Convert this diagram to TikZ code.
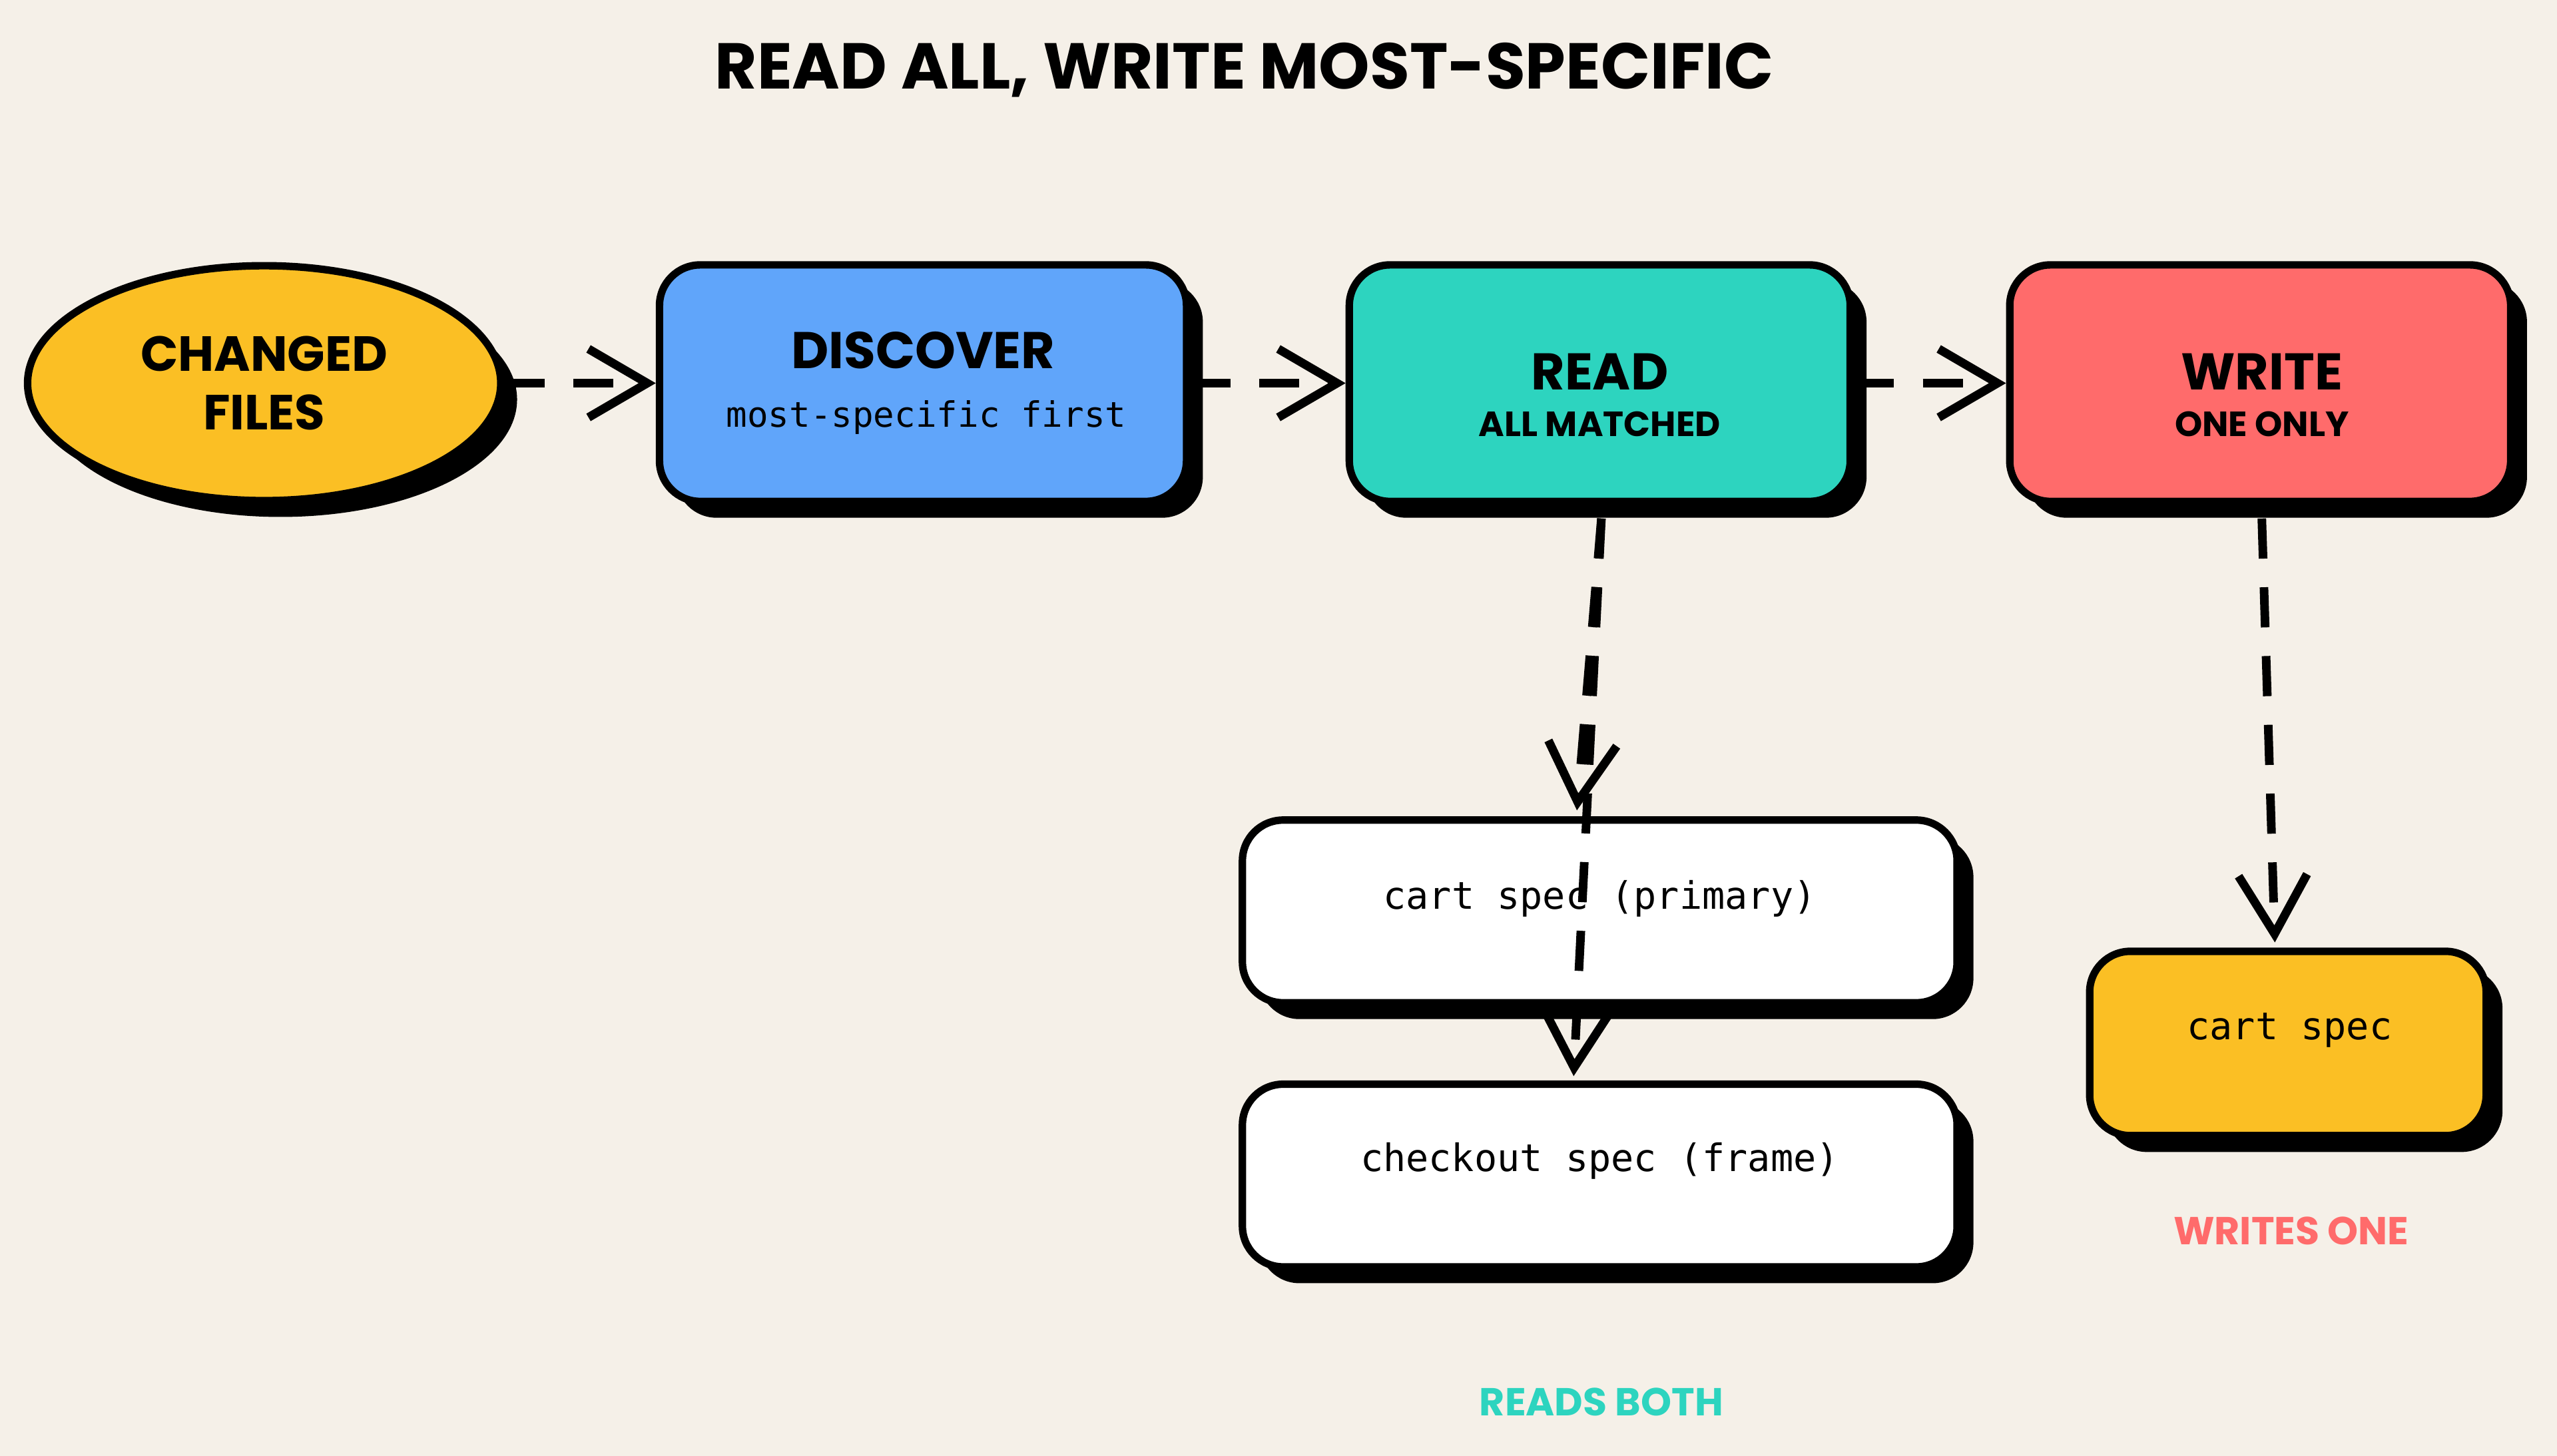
\documentclass[tikz,border=0pt]{standalone}
\usepackage{fontspec}
\setmainfont{Poppins}
\setmonofont{DejaVu Sans Mono}
\usetikzlibrary{shapes.geometric,shadows,arrows.meta}
\definecolor{bg}{HTML}{F5F0E8}
\definecolor{cyel}{HTML}{FBBF24}
\definecolor{cblue}{HTML}{60A5FA}
\definecolor{cteal}{HTML}{2DD4BF}
\definecolor{cred}{HTML}{FF6B6B}
\tikzset{
 box/.style={draw=black,line width=1.3pt,rounded corners=0.25cm,align=center,
   drop shadow={shadow xshift=0.1cm,shadow yshift=-0.1cm,fill=black,opacity=1}},
 conn/.style={line width=1.5pt,dash pattern=on 7pt off 5pt,
   -{Straight Barb[length=0.36cm,width=0.42cm,line width=1.5pt]}},
 lbl/.style={font=\bfseries}
}
\begin{document}
\begin{tikzpicture}[x=0.01cm,y=-0.01cm]
\fill[bg] (0,0) rectangle (1568,893);
\node[font=\bfseries\fontsize{11.3}{14}\selectfont] (title) at (763,43) {READ ALL, WRITE MOST-SPECIFIC};
\node[box,ellipse,fill=cyel,minimum width=2.9cm,minimum height=1.44cm,font=\bfseries\fontsize{8.6}{10.2}\selectfont] (cf) at (162,235) {CHANGED\\FILES};
\node[box,fill=cblue,minimum width=3.23cm,minimum height=1.45cm] (disc) at (566,235) {};
\node[font=\bfseries\fontsize{9}{11}\selectfont] at (566,215) {DISCOVER};
\node[font=\ttfamily\fontsize{6.1}{8}\selectfont] at (568,256) {most-specific first};
\node[box,fill=cteal,minimum width=3.07cm,minimum height=1.45cm] (read) at (981,235) {};
\node[font=\bfseries\fontsize{9}{11}\selectfont] at (981,228) {READ};
\node[font=\bfseries\fontsize{6.1}{8}\selectfont] at (981,260) {ALL MATCHED};
\node[box,fill=cred,minimum width=3.07cm,minimum height=1.45cm] (write) at (1386,235) {};
\node[font=\bfseries\fontsize{9}{11}\selectfont] at (1387,228) {WRITE};
\node[font=\bfseries\fontsize{6.1}{8}\selectfont] at (1387,260) {ONE ONLY};
\node[box,fill=white,minimum width=4.38cm,minimum height=1.12cm,font=\ttfamily\fontsize{6.6}{9}\selectfont] (cp) at (981,559) {};
\node[font=\ttfamily\fontsize{6.6}{9}\selectfont] at (981,551) {cart spec (primary)};
\node[box,fill=white,minimum width=4.38cm,minimum height=1.12cm] (co) at (981,721) {};
\node[font=\ttfamily\fontsize{6.6}{9}\selectfont] at (981,712) {checkout spec (frame)};
\node[box,fill=cyel,minimum width=2.43cm,minimum height=1.13cm] (cs) at (1403,640) {};
\node[font=\ttfamily\fontsize{6.6}{9}\selectfont] at (1404,632) {cart spec};
\node[text=cred,font=\bfseries\fontsize{6.8}{9}\selectfont] (w1) at (1405,755) {WRITES ONE};
\node[text=cteal,font=\bfseries\fontsize{6.8}{9}\selectfont] (rb) at (982,860) {READS BOTH};
\coordinate (rs) at (982,318);
\coordinate (ce) at (967,497);
\coordinate (coe) at (965,660);
\coordinate (ws) at (1387,318);
\coordinate (cse) at (1395,578);
\draw[conn] (cf.east) -- (disc.west);
\draw[conn] (disc.east) -- (read.west);
\draw[conn] (read.east) -- (write.west);
\draw[conn] (rs) -- (ce);
\draw[conn] (rs) -- (coe);
\draw[conn] (ws) -- (cse);
\end{tikzpicture}
\end{document}
